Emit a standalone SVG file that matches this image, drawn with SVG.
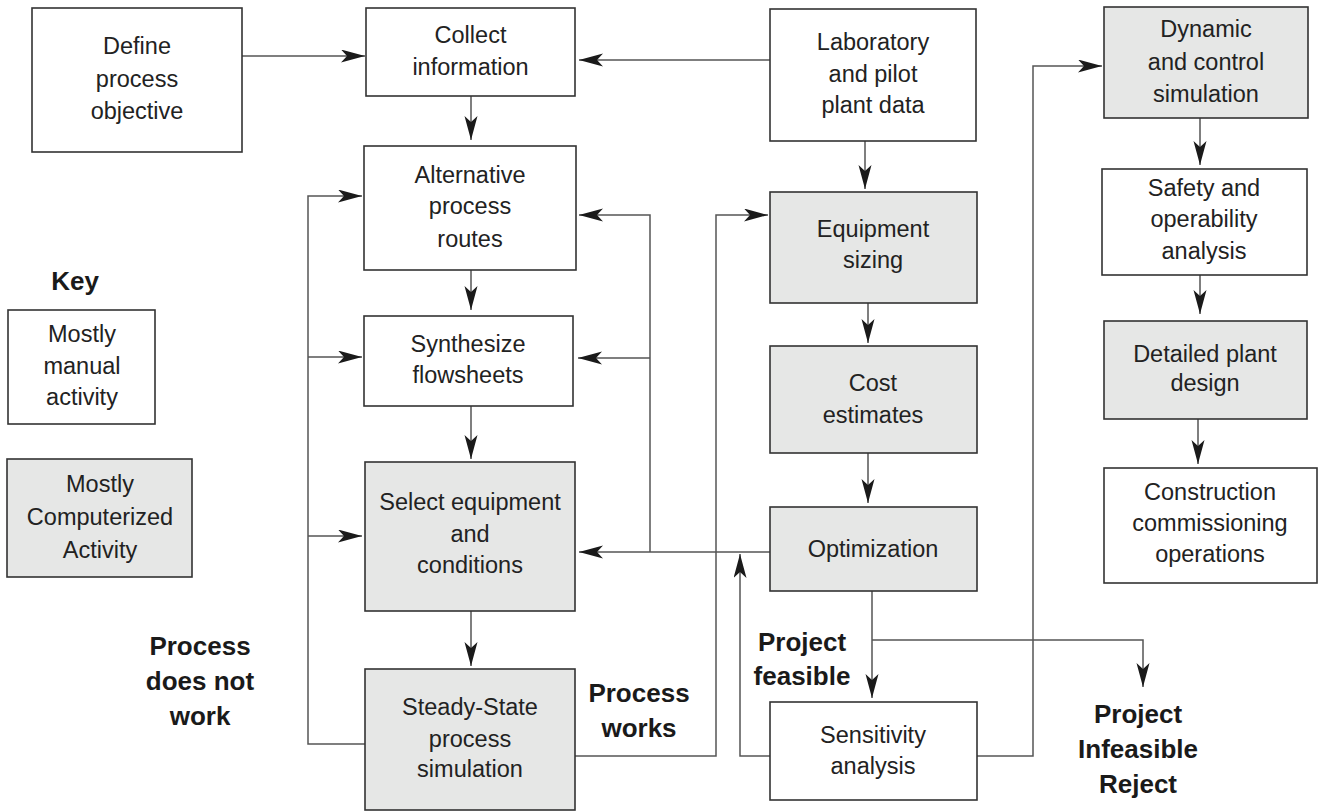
<svg xmlns="http://www.w3.org/2000/svg" width="1318" height="812" viewBox="0 0 1318 812">
<defs>
<marker id="ah" markerUnits="userSpaceOnUse" markerWidth="26" markerHeight="14" refX="24" refY="6.5" orient="auto">
<path d="M0,0 L24,6.5 L0,13 L6,6.5 z" fill="#1a1a1a"/>
</marker>
<style>
.box{stroke:#333;stroke-width:1.6;fill:#fff}
.comp{fill:#e6e7e6}
.t{font-family:"Liberation Sans",Arial,sans-serif;font-size:23.5px;fill:#222;text-anchor:middle}
.b{font-family:"Liberation Sans",Arial,sans-serif;font-size:26px;font-weight:bold;fill:#1a1a1a;text-anchor:middle}
.c{fill:none;stroke:#555;stroke-width:1.5}
.a{marker-end:url(#ah)}
</style>
</defs>
<rect width="1318" height="812" fill="#fff"/>

<g id="connectors">
<path class="c a" d="M242,56 H365"/>
<path class="c a" d="M770,60 H579"/>
<path class="c a" d="M471,96 V140"/>
<path class="c a" d="M471,270 V310"/>
<path class="c a" d="M471,406 V459"/>
<path class="c a" d="M471,611 V666"/>
<path class="c a" d="M865,141 V189"/>
<path class="c a" d="M868,303 V343"/>
<path class="c a" d="M868,453 V503"/>
<path class="c a" d="M770,552 H579"/>
<path class="c a" d="M650,552 V215 H579"/>
<path class="c a" d="M650,358 H578"/>
<path class="c a" d="M872,591 V698"/>
<path class="c a" d="M872,640 H1143 V687"/>
<path class="c a" d="M770,756 H740 V554"/>
<path class="c a" d="M977,756 H1033 V66 H1102"/>
<path class="c a" d="M365,744 H308 V196 H362"/>
<path class="c a" d="M308,357 H362"/>
<path class="c a" d="M308,536 H362"/>
<path class="c a" d="M575,756 H716 V215 H768"/>
<path class="c a" d="M1200,118 V165"/>
<path class="c a" d="M1200,275 V314"/>
<path class="c a" d="M1198,419 V464"/>
</g>

<g id="define">
<rect class="box" x="32" y="8" width="210" height="144"/>
<text class="t" x="137" y="54">Define</text>
<text class="t" x="137" y="87">process</text>
<text class="t" x="137" y="119">objective</text>
</g>
<g id="collect">
<rect class="box" x="366" y="8" width="209" height="88"/>
<text class="t" x="470.5" y="43">Collect</text>
<text class="t" x="470.5" y="75">information</text>
</g>
<g id="lab">
<rect class="box" x="770" y="9" width="206" height="132"/>
<text class="t" x="873" y="50">Laboratory</text>
<text class="t" x="873" y="82">and pilot</text>
<text class="t" x="873" y="113">plant data</text>
</g>
<g id="dynamic">
<rect class="box comp" x="1104" y="7" width="204" height="111"/>
<text class="t" x="1206" y="37">Dynamic</text>
<text class="t" x="1206" y="70">and control</text>
<text class="t" x="1206" y="102">simulation</text>
</g>
<g id="alternative">
<rect class="box" x="364" y="146" width="212" height="124"/>
<text class="t" x="470" y="183">Alternative</text>
<text class="t" x="470" y="214">process</text>
<text class="t" x="470" y="247">routes</text>
</g>
<g id="equipment">
<rect class="box comp" x="770" y="192" width="207" height="111"/>
<text class="t" x="873" y="237">Equipment</text>
<text class="t" x="873" y="268">sizing</text>
</g>
<g id="safety">
<rect class="box" x="1102" y="169" width="205" height="106"/>
<text class="t" x="1204" y="196">Safety and</text>
<text class="t" x="1204" y="227">operability</text>
<text class="t" x="1204" y="259">analysis</text>
</g>
<g id="key">
<text class="b" x="75" y="290">Key</text>
</g>
<g id="key-manual">
<rect class="box" x="8" y="310" width="147" height="114"/>
<text class="t" x="82" y="342">Mostly</text>
<text class="t" x="82" y="374">manual</text>
<text class="t" x="82" y="405">activity</text>
</g>
<g id="key-computer">
<rect class="box comp" x="7" y="459" width="185" height="118"/>
<text class="t" x="100" y="492">Mostly</text>
<text class="t" x="100" y="525">Computerized</text>
<text class="t" x="100" y="558">Activity</text>
</g>
<g id="synthesize">
<rect class="box" x="364" y="316" width="209" height="90"/>
<text class="t" x="468" y="352">Synthesize</text>
<text class="t" x="468" y="383">flowsheets</text>
</g>
<g id="cost">
<rect class="box comp" x="770" y="346" width="207" height="107"/>
<text class="t" x="873" y="391">Cost</text>
<text class="t" x="873" y="423">estimates</text>
</g>
<g id="detailed">
<rect class="box comp" x="1104" y="321" width="203" height="98"/>
<text class="t" x="1205" y="362">Detailed plant</text>
<text class="t" x="1205" y="391">design</text>
</g>
<g id="construction">
<rect class="box" x="1104" y="468" width="213" height="115"/>
<text class="t" x="1210" y="500">Construction</text>
<text class="t" x="1210" y="531">commissioning</text>
<text class="t" x="1210" y="562">operations</text>
</g>
<g id="select">
<rect class="box comp" x="365" y="462" width="210" height="149"/>
<text class="t" x="470" y="510">Select equipment</text>
<text class="t" x="470" y="542">and</text>
<text class="t" x="470" y="573">conditions</text>
</g>
<g id="optimization">
<rect class="box comp" x="770" y="507" width="207" height="84"/>
<text class="t" x="873" y="557">Optimization</text>
</g>
<g id="steady">
<rect class="box comp" x="365" y="669" width="210" height="141"/>
<text class="t" x="470" y="715">Steady-State</text>
<text class="t" x="470" y="747">process</text>
<text class="t" x="470" y="777">simulation</text>
</g>
<g id="sensitivity">
<rect class="box" x="770" y="702" width="207" height="98"/>
<text class="t" x="873" y="743">Sensitivity</text>
<text class="t" x="873" y="774">analysis</text>
</g>
<g id="labels">
<text class="b" x="200" y="655">Process</text>
<text class="b" x="200" y="690">does not</text>
<text class="b" x="200" y="725">work</text>
<text class="b" x="639" y="702">Process</text>
<text class="b" x="639" y="737">works</text>
<text class="b" x="802" y="651">Project</text>
<text class="b" x="802" y="685">feasible</text>
<text class="b" x="1138" y="723">Project</text>
<text class="b" x="1138" y="758">Infeasible</text>
<text class="b" x="1138" y="793">Reject</text>
</g>
</svg>
